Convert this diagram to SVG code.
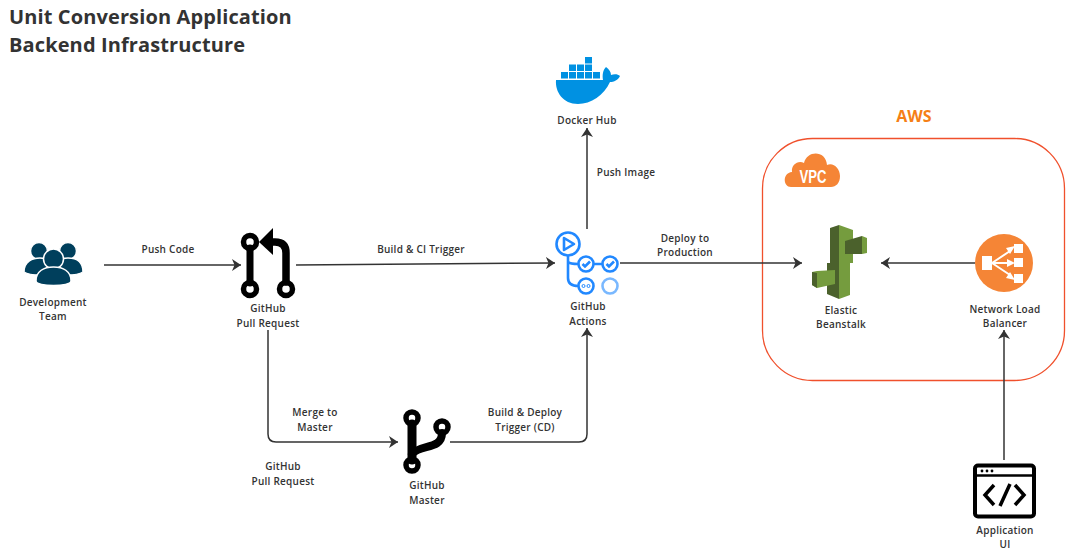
<svg xmlns="http://www.w3.org/2000/svg" width="1079" height="559" viewBox="0 0 1079 559">
<style>
text{font-family:"Open Sans","Noto Sans",sans-serif;font-weight:600;font-size:10px;fill:#333;text-anchor:middle;letter-spacing:.25px}
.title{font-size:20px;font-weight:700;text-anchor:start;letter-spacing:.12px}
.c{fill:none;stroke:#333;stroke-width:1.5}
.blk{fill:none;stroke:#000;stroke-linecap:round}
.ga{fill:none;stroke:#2188ff;stroke-width:2.6}
.dk{fill:#0091e2}
.p{fill:#003f5c;stroke:#fff;stroke-width:1.5}
</style>
<defs>
<marker id="a" markerUnits="userSpaceOnUse" markerWidth="11" markerHeight="12" refX="9" refY="6" orient="auto"><path d="M0 0L9 6L0 12L2.5 6Z" fill="#333"/></marker>
</defs>
<g id="title"><text class="title" x="9" y="24">Unit Conversion Application</text><text class="title" x="9" y="52">Backend Infrastructure</text></g>
<g id="aws-vpc">
<rect x="762.500" y="138.500" width="302" height="242" rx="50" fill="none" stroke="#f0502c" stroke-width="1.300"/>
<text x="914" y="122" style="font-size:16px;font-weight:700;fill:#f57f17;letter-spacing:0">AWS</text>
<path d="M791 187C783 187 782 173 792 172C791 165 798 160 804 163C807 150 826 150 827 165C833 162 840 168 840 176C840 183 836 187 831 187Z" fill="#f58536"/>
<text x="813" y="183" textLength="27" lengthAdjust="spacingAndGlyphs" style="font-family:'Liberation Sans',sans-serif;font-weight:700;font-size:18px;fill:#fff;letter-spacing:0">VPC</text>
</g>
<g id="connectors">
<path class="c" d="M104 265H241" marker-end="url(#a)"/>
<path class="c" d="M296 265L555 263" marker-end="url(#a)"/>
<path class="c" d="M587 229V128" marker-end="url(#a)"/>
<path class="c" d="M620 263H802" marker-end="url(#a)"/>
<path class="c" d="M975 263H881" marker-end="url(#a)"/>
<path class="c" d="M1004 460V330" marker-end="url(#a)"/>
<path class="c" d="M268 330V434Q268 442 276 442H398" marker-end="url(#a)"/>
<path class="c" d="M450 442H579Q587 442 587 434V328" marker-end="url(#a)"/>
</g>
<g id="development-team">
<circle class="p" cx="39" cy="251" r="8.500"/><circle class="p" cx="68" cy="251" r="8.500"/>
<path class="p" d="M24 272C24 261 33 258 40 258C47 258 54 262 56 272C50 276 30 276 24 272Z"/>
<path class="p" d="M83 272C83 261 75 258 68 258C61 258 53 262 51 272C57 276 77 276 83 272Z"/>
<circle class="p" cx="53.500" cy="259" r="10"/>
<path class="p" d="M36 281C36 271 44 267 53.500 267C63 267 71 271 71 281C71 287 36 287 36 281Z"/>
<text x="53" y="306">Development</text><text x="53" y="320">Team</text>
</g>
<g id="github-pull-request">
<path class="blk" stroke-width="7" d="M250 248V283"/>
<path class="blk" stroke-width="7.500" d="M286 282V253Q286 242 275 242H268"/>
<path d="M259 242L273 228V255Z" fill="#000"/>
<circle class="blk" stroke-width="5.500" cx="250" cy="242" r="6.500"/>
<circle class="blk" stroke-width="5.500" cx="250" cy="289" r="6.500"/>
<circle class="blk" stroke-width="5.500" cx="286" cy="289" r="6.500"/>
<text x="268" y="312">GitHub</text><text x="268" y="327">Pull Request</text>
</g>
<g id="docker-hub">
<g class="dk"><rect x="561" y="72" width="7" height="6.500"/><rect x="569" y="72" width="7" height="6.500"/><rect x="577" y="72" width="7" height="6.500"/><rect x="585" y="72" width="7" height="6.500"/><rect x="593" y="72" width="7" height="6.500"/><rect x="569" y="64.500" width="7" height="6.500"/><rect x="577" y="64.500" width="7" height="6.500"/><rect x="585" y="64.500" width="7" height="6.500"/><rect x="585" y="57" width="7" height="6.500"/>
<path d="M556 80H603C602 75 603 70 606 67C609 69 611 72 611 75C614 74 618 74 620 76C618 80 614 82 610 82C604 95 591 104 578 104C563 104 555 92 556 80Z"/></g>
<text x="587" y="124">Docker Hub</text>
</g>
<g id="github-actions">
<path class="ga" d="M568 255V262Q570 264 578.500 264M593.500 264H602.500M568 255V278Q568 286 578.500 286"/>
<circle class="ga" cx="568" cy="244" r="11.500"/>
<path class="ga" stroke-width="2" d="M564 238L574 244L564 250Z" stroke-linejoin="round"/>
<circle class="ga" cx="586" cy="264" r="7.500"/><circle class="ga" cx="610" cy="264" r="7.500"/><circle class="ga" cx="586" cy="286" r="7.500"/>
<circle class="ga" style="stroke:#79b8ff" cx="610" cy="286" r="7.500"/>
<path class="ga" stroke-width="2" d="M582.500 264L585 266.500L590 261.500M606.500 264L609 266.500L614 261.500"/>
<circle cx="583.500" cy="286" r="1.500" class="ga" style="stroke-width:1"/><circle cx="588.500" cy="286" r="1.500" class="ga" style="stroke-width:1"/>
<text x="588" y="310">GitHub</text><text x="588" y="325">Actions</text>
</g>
<g id="elastic-beanstalk">
<path d="M830 228L839 225V299L827 294V263H830Z" fill="#4b612c"/>
<path d="M839 225L853 230V263H850V295L839 299Z" fill="#759c3e"/>
<path d="M845 241L862 236V254L845 254Z" fill="#4b612c"/>
<path d="M862 236L867 238V253L862 254Z" fill="#759c3e"/>
<path d="M812 272L817 271L835 270V284L817 288L812 285Z" fill="#759c3e"/>
<path d="M812 272L817 273V288L812 285Z" fill="#4b612c"/>
<text x="841" y="314">Elastic</text><text x="841" y="328">Beanstalk</text>
</g>
<g id="network-load-balancer">
<circle cx="1004" cy="263" r="29" fill="#f58536"/>
<g fill="#fff"><rect x="982" y="256" width="10" height="14"/><rect x="1014" y="244" width="9" height="9"/><rect x="1014" y="258" width="9" height="9"/><rect x="1014" y="274" width="9" height="9"/>
<path d="M1015 246L1006 248L1010 254ZM1015 263L1007 259V267ZM1015 280L1010 272L1006 278Z"/></g>
<path d="M992 263L1010 251M992 263H1010M992 263L1010 275" stroke="#fff" stroke-width="2"/>
<text x="1005" y="313">Network Load</text><text x="1005" y="327">Balancer</text>
</g>
<g id="github-master">
<path class="blk" stroke-width="9" d="M412 424V460"/>
<path class="blk" stroke-width="8" d="M442 433C442 450 420 444 412 454"/>
<circle class="blk" stroke-width="5.500" cx="412" cy="418" r="6"/><circle class="blk" stroke-width="5.500" cx="412" cy="465" r="6"/><circle class="blk" stroke-width="5.500" cx="442" cy="427" r="6"/>
<text x="427" y="489">GitHub</text><text x="427" y="504">Master</text>
</g>
<g id="application-ui">
<rect x="975" y="465.500" width="59" height="51" rx="3" fill="none" stroke="#000" stroke-width="4"/>
<path d="M975 475.500H1034" stroke="#000" stroke-width="2.500"/>
<circle cx="982" cy="471" r="1.400"/><circle cx="987" cy="471" r="1.400"/><circle cx="992" cy="471" r="1.400"/>
<path d="M994 485L985 495L994 505M1015 485L1024 495L1015 505M1010 484L1000 506" fill="none" stroke="#000" stroke-width="3.500"/>
<text x="1005" y="534">Application</text><text x="1005" y="548">UI</text>
</g>
<g id="labels">
<text x="168" y="253">Push Code</text>
<text x="421" y="253">Build &amp; CI Trigger</text>
<text x="626" y="176">Push Image</text>
<text x="685" y="242">Deploy to</text><text x="685" y="256">Production</text>
<text x="315" y="416">Merge to</text><text x="315" y="431">Master</text>
<text x="283" y="470">GitHub</text><text x="283" y="485">Pull Request</text>
<text x="525" y="416">Build &amp; Deploy</text><text x="525" y="431">Trigger (CD)</text>
</g>
</svg>
